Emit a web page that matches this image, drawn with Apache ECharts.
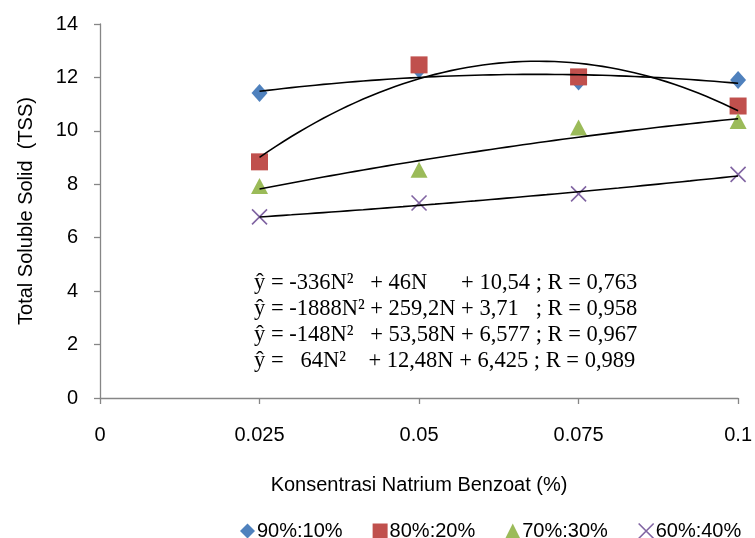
<!DOCTYPE html>
<html>
<head>
<meta charset="utf-8">
<script src="https://cdn.jsdelivr.net/npm/echarts@6/dist/echarts.min.js"></script>
<style>
  html, body { margin: 0; padding: 0; background: #ffffff; }
  #chart { width: 755px; height: 538px; }
</style>
</head>
<body>
<div id="chart"></div>
<script>
// ---------------- data ----------------
const xValues = [0.025, 0.05, 0.075, 0.1];
const xTickLabels = ['0', '0.025', '0.05', '0.075', '0.1'];
const seriesNames = ['90%:10%', '80%:20%', '70%:30%', '60%:40%'];
const s90 = [11.42, 12.3, 11.85, 11.9];
const s80 = [8.84, 12.47, 12.02, 10.93];
const s70 = [7.94, 8.54, 10.13, 10.37];
const s60 = [6.78, 7.30, 7.64, 8.37];
// trendline coefficients as printed on the chart: a*N^2 + b*N + c
const coef90 = [-336, 46, 10.54];
const coef80 = [-1888, 259.2, 3.71];
const coef70 = [-148, 53.58, 6.577];
const coef60 = [64, 12.48, 6.425];
// equation texts as printed
const equationLines = [
  'ŷ = -336N²   + 46N      + 10,54 ; R = 0,763',
  'ŷ = -1888N² + 259,2N + 3,71   ; R = 0,958',
  'ŷ = -148N²   + 53,58N + 6,577 ; R = 0,967',
  'ŷ =   64N²    + 12,48N + 6,425 ; R = 0,989'
];
const yAxisTitle = 'Total Soluble Solid  (TSS)';
const xAxisTitle = 'Konsentrasi Natrium Benzoat (%)';

// ---------------- styling ----------------
const colors = ['#4F81BD', '#C0504D', '#9BBB59', '#8064A2'];
const symbols = ['diamond', 'rect', 'triangle', 'path://M0,0L10,10M0,10L10,0'];
const symbolSizes = [[16, 18], 17, [17, 16], 15];
const sansFont = '"Liberation Sans", Arial, sans-serif';
const serifFont = '"Liberation Serif", "Times New Roman", serif';
const axisGray = '#868686';

const seriesValues = [s90, s80, s70, s60];
const coefs = [coef90, coef80, coef70, coef60];

// equation layout (pixel positions)
const eqLeft = 254;
const eqLineY = [283, 309, 335, 361];

function trendPoints(c) {
  const pts = [];
  const n0 = xValues[0], n1 = xValues[xValues.length - 1];
  const steps = 60;
  for (let i = 0; i <= steps; i++) {
    const n = n0 + (n1 - n0) * i / steps;
    pts.push([n, c[0] * n * n + c[1] * n + c[2]]);
  }
  return pts;
}

function markerStyle(i) {
  return i === 3
    ? { color: 'transparent', borderColor: colors[i], borderWidth: 1.6, opacity: 1 }
    : { color: colors[i], opacity: 1 };
}

const series = [];
seriesValues.forEach((vals, i) => {
  series.push({
    name: seriesNames[i],
    type: 'scatter',
    data: vals.map((v, k) => [xValues[k], v]),
    symbol: symbols[i],
    symbolSize: symbolSizes[i],
    itemStyle: markerStyle(i),
    emphasis: { disabled: true },
    z: 2
  });
});
coefs.forEach((c, i) => {
  series.push({
    name: 'trend' + i,
    type: 'line',
    data: trendPoints(c),
    showSymbol: false,
    symbol: 'none',
    smooth: false,
    silent: true,
    lineStyle: { color: '#000000', width: 1.6 },
    z: 5
  });
});

const graphics = equationLines.map((t, li) => ({
  type: 'text',
  x: eqLeft,
  y: eqLineY[li],
  silent: true,
  style: {
    text: t,
    font: '22.5px ' + serifFont,
    fill: '#000000',
    verticalAlign: 'middle',
    align: 'left'
  }
}));

const chart = echarts.init(document.getElementById('chart'), null, { renderer: 'canvas' });
chart.setOption({
  animation: false,
  backgroundColor: '#ffffff',
  grid: { left: 100, right: 13, top: 24, bottom: 140 },
  xAxis: {
    type: 'value',
    min: 0,
    max: 0.1,
    interval: 0.025,
    name: xAxisTitle,
    nameLocation: 'middle',
    nameGap: 77,
    nameTextStyle: { fontFamily: sansFont, fontSize: 20, color: '#000' },
    axisLine: { show: true, onZero: false, lineStyle: { color: axisGray, width: 1.3 } },
    axisTick: { show: true, inside: false, length: 6, lineStyle: { color: axisGray, width: 1.3 } },
    axisLabel: {
      margin: 27,
      fontFamily: sansFont,
      fontSize: 20,
      color: '#000',
      formatter: function (v) {
        const idx = Math.round(v / 0.025);
        return xTickLabels[idx] !== undefined ? xTickLabels[idx] : '';
      }
    },
    splitLine: { show: false }
  },
  yAxis: {
    type: 'value',
    min: 0,
    max: 14,
    interval: 2,
    name: yAxisTitle,
    nameLocation: 'middle',
    nameGap: 64,
    nameTextStyle: { fontFamily: sansFont, fontSize: 20, color: '#000' },
    axisLine: { show: true, lineStyle: { color: axisGray, width: 1.3 } },
    axisTick: { show: true, inside: false, length: 6, lineStyle: { color: axisGray, width: 1.3 } },
    axisLabel: { margin: 22, fontFamily: sansFont, fontSize: 20, color: '#000' },
    splitLine: { show: false }
  },
  legend: {
    data: seriesNames.map((n, i) => ({
      name: n,
      icon: symbols[i],
      itemStyle: markerStyle(i)
    })),
    left: 235,
    top: 516,
    itemWidth: 15,
    itemHeight: 15,
    itemGap: 30,
    textStyle: { fontFamily: sansFont, fontSize: 20, color: '#000', padding: [0, 0, 0, -3] }
  },
  graphic: graphics,
  series: series
});
</script>
</body>
</html>
